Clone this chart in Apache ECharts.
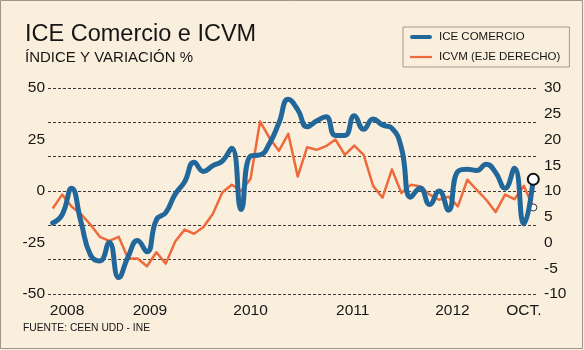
<!DOCTYPE html>
<html>
<head>
<meta charset="utf-8">
<script src="https://cdn.jsdelivr.net/npm/echarts@6/dist/echarts.min.js"></script>
<style>
  html, body { margin: 0; padding: 0; background: #faeedd; }
  #chart { width: 584px; height: 350px; }
</style>
</head>
<body>
<div id="chart"></div>
<script>
// ---- data ----
const titleText = 'ICE Comercio e ICVM';
const subtitleText = 'ÍNDICE Y VARIACIÓN %';
const sourceText = 'FUENTE: CEEN UDD - INE';
const seriesNames = ['ICE COMERCIO', 'ICVM (EJE DERECHO)'];

// 52 periods plotted
const periods = ['p0','p1','p2','p3','p4','p5','p6','p7','p8','p9','p10','p11','p12','p13','p14','p15','p16','p17','p18','p19','p20','p21','p22','p23','p24','p25','p26','p27','p28','p29','p30','p31','p32','p33','p34','p35','p36','p37','p38','p39','p40','p41','p42','p43','p44','p45','p46','p47','p48','p49','p50','p51'];
const xTickLabels = ['2008', '2009', '2010', '2011', '2012', 'OCT.'];
const xTickIndex = [2, 10, 21, 32, 42, 50];

// ICE Comercio (left axis, index)
const iceComercio = [-15.5, -11.5, 1.3, -15, -31, -34, -25, -42, -32, -24, -29.5, -14, -10.5, -1.5, 4.5, 14, 9.5, 12.3, 14.5, 20.8, -9, 17, 17.5, 23, 33, 44.5, 39.5, 31.2, 34, 36, 27, 27, 36.5, 30, 35, 32, 30.5, 21, -3, 1.5, -6.5, 0, -9.3, 9.5, 10.5, 10, 13, 9, 1.3, 11, -16, 5.7];
// ICVM (right axis, % variation)
const icvm = [6.6, 9.3, 7.0, 5.5, 3.5, 1.1, 0.3, 1.1, -3.1, -3.1, -4.6, -1.9, -4.1, 0.2, 2.5, 1.7, 3.0, 5.6, 9.7, 11.2, 10, 12.4, 23.5, 20.3, 17.8, 21.1, 12.8, 18.5, 18, 18.7, 20, 17, 18.8, 17, 11, 8.7, 14.2, 9.6, 11.2, 10.9, 9.3, 8.3, 8.9, 7.0, 12.2, 10.2, 8.3, 5.9, 9.3, 8.4, 11, 6.8];

const leftTicks = { min: -50, max: 50, step: 25 };
const rightTicks = { min: -10, max: 30, step: 5 };

// ---- chart ----
const FONT = '"Liberation Sans", Arial, sans-serif';
const BLUE = '#22679a';
const ORANGE = '#ee6a3a';
const TEXT = '#161616';

const chart = echarts.init(document.getElementById('chart'), null, { renderer: 'canvas' });

const lastB = iceComercio.length - 1;
const lastO = icvm.length - 1;
const blueData = iceComercio.map((v, i) => i === lastB ? {
  value: v, symbol: 'circle', symbolSize: 11,
  itemStyle: { color: '#ffffff', borderColor: '#111111', borderWidth: 2 }
} : v);
const orangeData = icvm.map((v, i) => i === lastO ? {
  value: v, symbol: 'circle', symbolSize: 7,
  itemStyle: { color: '#ffffff', borderColor: '#333333', borderWidth: 1 }
} : v);

const labelShift = { '2008': [0, 9, 0, 0], '2009': [0, 0, 0, 6], '2010': [0, 0, 0, 0], '2011': [0, 3, 0, 0], '2012': [0, 0, 0, 8], 'OCT.': [0, 0, 0, 0] };
const rich = {};
xTickLabels.forEach((t, k) => {
  rich['l' + k] = { fontSize: 15.5, fontFamily: FONT, color: TEXT, padding: labelShift[t] };
});

const option = {
  animation: false,
  backgroundColor: '#faeedd',
  textStyle: { fontFamily: FONT },
  grid: { left: 48, right: 46, top: 88, bottom: 56, containLabel: false, outerBoundsMode: 'none' },
  legend: {
    orient: 'vertical',
    left: 403, top: 27,
    padding: [4, 9, 4, 7],
    itemGap: 8,
    itemWidth: 22,
    itemHeight: 14,
    backgroundColor: '#faeedd',
    borderColor: '#a8988a',
    borderWidth: 1,
    borderRadius: 0,
    selectedMode: false,
    textStyle: { fontSize: 11.5, color: TEXT, fontFamily: FONT, padding: [0, 0, 0, 2] },
    data: [
      { name: seriesNames[0], icon: 'path://M2,0 L20,0 A2,2 0 0 1 20,4 L2,4 A2,2 0 0 1 2,0 Z', itemStyle: { color: BLUE } },
      { name: seriesNames[1], icon: 'path://M0,0 L22,0 L22,2.2 L0,2.2 Z', itemStyle: { color: ORANGE } }
    ]
  },
  xAxis: [{
    type: 'category',
    data: periods,
    boundaryGap: true,
    axisLine: { show: false },
    axisTick: { show: false },
    splitLine: { show: false },
    axisLabel: {
      margin: 9,
      interval: (idx) => xTickIndex.indexOf(idx) >= 0,
      formatter: (val, idx) => {
        const k = xTickIndex.indexOf(idx);
        return k >= 0 ? '{l' + k + '|' + xTickLabels[k] + '}' : '';
      },
      rich: rich,
      color: TEXT, fontSize: 15.5, fontFamily: FONT
    }
  }],
  yAxis: [{
    type: 'value', position: 'left',
    min: leftTicks.min, max: leftTicks.max, interval: leftTicks.step,
    axisLine: { show: false }, axisTick: { show: false }, splitLine: { show: false },
    axisLabel: { margin: 3, color: TEXT, fontSize: 15.5, fontFamily: FONT }
  }, {
    type: 'value', position: 'right',
    min: rightTicks.min, max: rightTicks.max, interval: rightTicks.step,
    axisLine: { show: false }, axisTick: { show: false }, splitLine: { show: false },
    axisLabel: { margin: 6, color: TEXT, fontSize: 15.5, fontFamily: FONT }
  }, {
    type: 'value', position: 'left',
    min: 0, max: 6, interval: 1,
    axisLine: { show: false }, axisTick: { show: false },
    axisLabel: { show: false },
    splitLine: { show: true, lineStyle: { color: '#3a3a3a', width: 1, type: [3, 2] } }
  }],
  series: [{
    name: seriesNames[1],
    type: 'line',
    xAxisIndex: 0, yAxisIndex: 1,
    data: orangeData,
    symbol: 'none',
    smooth: false,
    lineStyle: { color: ORANGE, width: 2.5, join: 'round' },
    itemStyle: { color: ORANGE },
    emphasis: { disabled: true },
    z: 2
  }, {
    name: seriesNames[0],
    type: 'line',
    xAxisIndex: 0, yAxisIndex: 0,
    data: blueData,
    symbol: 'none',
    smooth: 0.5,
    lineStyle: { color: BLUE, width: 5, cap: 'round', join: 'round' },
    itemStyle: { color: BLUE },
    emphasis: { disabled: true },
    z: 3
  }],
  graphic: [
    { type: 'rect', silent: true, z: 100, shape: { x: 0.5, y: 0.5, width: 582, height: 348 }, style: { fill: null, stroke: '#9d968c', lineWidth: 1 } },
    { type: 'text', silent: true, left: 25, top: 23, style: { text: titleText, fontSize: 23.5, fontFamily: FONT, fill: TEXT } },
    { type: 'text', silent: true, left: 25, top: 50, style: { text: subtitleText, fontSize: 15, fontFamily: FONT, fill: TEXT } },
    { type: 'text', silent: true, left: 23, top: 323, style: { text: sourceText, fontSize: 10.3, fontFamily: FONT, fill: TEXT } }
  ]
};
chart.setOption(option);
</script>
</body>
</html>
